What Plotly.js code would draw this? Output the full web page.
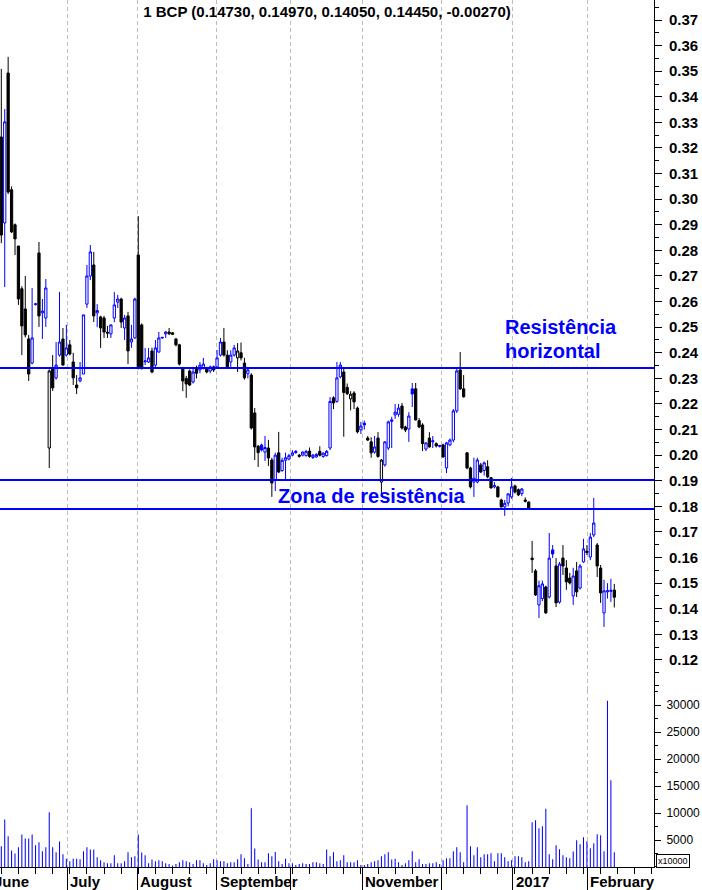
<!DOCTYPE html>
<html>
<head>
<meta charset="utf-8">
<script src="https://cdn.plot.ly/plotly-3.0.1.min.js"></script>
<style>
  html, body { margin: 0; padding: 0; background: #ffffff; }
  #chart { width: 702px; height: 890px; }
</style>
</head>
<body>
<div id="chart"></div>
<script>
// ---------------- DATA ----------------
const titleText = '1 BCP (0.14730, 0.14970, 0.14050, 0.14450, -0.00270)';

const opens = [
0.3243,0.2907,0.3493,0.3037,0.2900,0.2817,0.2650,0.2571,0.2454,0.2360,
0.2588,0.2790,0.2556,0.2536,0.2028,0.2337,0.2302,0.2391,0.2454,0.2391,
0.2431,0.2364,0.2274,0.2290,0.2317,0.2590,0.2700,0.2743,0.2556,0.2540,
0.2536,0.2480,0.2474,0.2536,0.2598,0.2610,0.2497,0.2544,0.2442,0.2458,
0.2782,0.2509,0.2365,0.2364,0.2407,0.2352,0.2403,0.2458,0.2474,0.2481,
0.2478,0.2454,0.2431,0.2341,0.2300,0.2329,0.2286,0.2341,0.2333,0.2340,
0.2340,0.2329,0.2345,0.2345,0.2391,0.2442,0.2391,0.2364,0.2391,0.2380,
0.2400,0.2360,0.2318,0.2313,0.2165,0.2035,0.2040,0.2012,0.2028,0.1981,
0.1905,0.2009,0.1940,0.1980,0.1985,0.2000,0.2015,0.1995,0.2000,0.1998,
0.2016,0.1991,0.1993,0.2015,0.1995,0.1998,0.2028,0.2224,0.2210,0.2306,
0.2325,0.2265,0.2220,0.2243,0.2184,0.2099,0.2125,0.2067,0.2052,0.2012,
0.2067,0.1895,0.1962,0.2028,0.2132,0.2157,0.2160,0.2192,0.2110,0.2102,
0.2259,0.2259,0.2135,0.2118,0.2024,0.2067,0.2052,0.2045,0.2034,0.2040,
0.1950,0.2040,0.2059,0.2173,0.2333,0.2259,0.2009,0.1950,0.1895,0.1895,
0.1962,0.1940,0.1955,0.1912,0.1876,0.1876,0.1825,0.1798,0.1813,0.1837,
0.1880,0.1865,0.1850,0.1825,0.1817,0.1598,0.1548,0.1415,0.1440,0.1485,
0.1446,0.1630,0.1567,0.1426,0.1598,0.1559,0.1520,0.1450,0.1548,0.1481,
0.1583,0.1625,0.1602,0.1688,0.1649,0.1559,0.1384,0.1466,0.1468,0.1473
];
const highs = [
0.3509,0.3352,0.3556,0.3050,0.2905,0.2817,0.2660,0.2700,0.2470,0.2653,
0.2595,0.2833,0.2610,0.2688,0.2335,0.2391,0.2442,0.2638,0.2497,0.2509,
0.2450,0.2400,0.2313,0.2364,0.2548,0.2743,0.2821,0.2794,0.2590,0.2545,
0.2544,0.2505,0.2509,0.2638,0.2626,0.2615,0.2548,0.2560,0.2509,0.2615,
0.2934,0.2515,0.2419,0.2419,0.2420,0.2450,0.2481,0.2462,0.2485,0.2497,
0.2481,0.2458,0.2435,0.2345,0.2310,0.2335,0.2345,0.2350,0.2364,0.2380,
0.2345,0.2350,0.2350,0.2411,0.2458,0.2497,0.2410,0.2410,0.2431,0.2438,
0.2440,0.2380,0.2345,0.2320,0.2184,0.2040,0.2045,0.2075,0.2060,0.1990,
0.2010,0.2091,0.1990,0.2010,0.2005,0.2020,0.2020,0.2005,0.2015,0.2020,
0.2030,0.2005,0.2008,0.2035,0.2010,0.2020,0.2227,0.2230,0.2364,0.2364,
0.2345,0.2280,0.2250,0.2250,0.2190,0.2130,0.2135,0.2075,0.2070,0.2075,
0.2090,0.1985,0.2055,0.2135,0.2150,0.2200,0.2200,0.2204,0.2115,0.2168,
0.2282,0.2282,0.2145,0.2125,0.2050,0.2090,0.2075,0.2050,0.2040,0.2045,
0.2052,0.2065,0.2180,0.2341,0.2403,0.2313,0.2012,0.1955,0.1990,0.1990,
0.1970,0.1975,0.1980,0.1915,0.1895,0.1880,0.1830,0.1825,0.1850,0.1911,
0.1885,0.1870,0.1872,0.1835,0.1820,0.1665,0.1555,0.1510,0.1510,0.1490,
0.1696,0.1649,0.1598,0.1583,0.1649,0.1590,0.1540,0.1560,0.1583,0.1575,
0.1673,0.1649,0.1696,0.1833,0.1657,0.1571,0.1513,0.1500,0.1517,0.1497
];
const lows = [
0.2828,0.2657,0.3020,0.2868,0.2782,0.2587,0.2391,0.2460,0.2290,0.2355,
0.2585,0.2501,0.2454,0.2501,0.1950,0.2251,0.2295,0.2385,0.2350,0.2385,
0.2390,0.2274,0.2239,0.2285,0.2317,0.2575,0.2684,0.2520,0.2500,0.2419,
0.2458,0.2458,0.2458,0.2520,0.2575,0.2497,0.2450,0.2356,0.2419,0.2455,
0.2335,0.2335,0.2352,0.2360,0.2320,0.2340,0.2400,0.2455,0.2458,0.2470,
0.2470,0.2425,0.2350,0.2250,0.2224,0.2270,0.2280,0.2300,0.2320,0.2335,
0.2320,0.2320,0.2325,0.2340,0.2385,0.2385,0.2340,0.2345,0.2385,0.2325,
0.2370,0.2295,0.2300,0.2100,0.1981,0.1954,0.2015,0.1977,0.1958,0.1837,
0.1860,0.1930,0.1935,0.1903,0.1980,0.1995,0.2005,0.1990,0.1995,0.1995,
0.1990,0.1985,0.1990,0.1995,0.1990,0.1995,0.2020,0.2180,0.2205,0.2300,
0.2072,0.2235,0.2175,0.2180,0.2085,0.2083,0.2100,0.2055,0.1990,0.2005,
0.1990,0.1845,0.1955,0.2020,0.2028,0.2142,0.2150,0.2100,0.2090,0.2052,
0.2188,0.2135,0.2105,0.2016,0.2016,0.2030,0.2028,0.2030,0.2030,0.1990,
0.1930,0.2035,0.2050,0.2165,0.2255,0.2225,0.1945,0.1870,0.1837,0.1890,
0.1930,0.1920,0.1910,0.1870,0.1870,0.1835,0.1795,0.1763,0.1800,0.1830,
0.1850,0.1840,0.1840,0.1815,0.1790,0.1540,0.1450,0.1364,0.1430,0.1380,
0.1440,0.1598,0.1407,0.1420,0.1532,0.1474,0.1495,0.1415,0.1446,0.1475,
0.1580,0.1610,0.1590,0.1680,0.1524,0.1423,0.1329,0.1440,0.1427,0.1405
];
const closes = [
0.2860,0.3302,0.3028,0.2872,0.2845,0.2610,0.2505,0.2470,0.2317,0.2458,
0.2591,0.2544,0.2563,0.2653,0.2329,0.2263,0.2352,0.2442,0.2352,0.2419,
0.2395,0.2302,0.2263,0.2302,0.2548,0.2700,0.2794,0.2544,0.2565,0.2497,
0.2481,0.2477,0.2509,0.2587,0.2610,0.2520,0.2536,0.2407,0.2454,0.2610,
0.2345,0.2338,0.2368,0.2380,0.2325,0.2419,0.2458,0.2460,0.2481,0.2474,
0.2472,0.2431,0.2356,0.2290,0.2278,0.2274,0.2325,0.2320,0.2352,0.2356,
0.2325,0.2345,0.2333,0.2380,0.2442,0.2391,0.2345,0.2391,0.2419,0.2407,
0.2380,0.2302,0.2333,0.2106,0.2032,0.2010,0.2020,0.2030,0.1989,0.1891,
0.2000,0.1934,0.1980,0.1990,0.1998,0.2009,0.2010,0.2000,0.2012,0.2015,
0.1995,0.2000,0.2003,0.2000,0.2008,0.2015,0.2210,0.2204,0.2302,0.2352,
0.2245,0.2240,0.2238,0.2208,0.2091,0.2114,0.2118,0.2059,0.2009,0.2032,
0.1995,0.1981,0.2052,0.2130,0.2138,0.2168,0.2184,0.2106,0.2098,0.2153,
0.2239,0.2138,0.2110,0.2045,0.2048,0.2032,0.2056,0.2036,0.2038,0.1993,
0.2048,0.2059,0.2173,0.2329,0.2259,0.2228,0.1950,0.1876,0.1910,0.1981,
0.1934,0.1970,0.1915,0.1872,0.1882,0.1837,0.1798,0.1812,0.1849,0.1876,
0.1856,0.1845,0.1868,0.1820,0.1794,0.1592,0.1454,0.1490,0.1497,0.1384,
0.1598,0.1614,0.1423,0.1575,0.1567,0.1505,0.1501,0.1528,0.1466,0.1567,
0.1634,0.1620,0.1680,0.1735,0.1567,0.1462,0.1470,0.1471,0.1472,0.1445
];
// volume in units of 10000 shares
const volumes = [
3850,8800,5700,3050,2500,3650,6000,5270,5270,6000,
4030,4590,2920,3650,10140,3650,2740,4720,2370,1510,
1080,1540,1540,1420,2920,3650,3240,3240,1820,1260,
890,700,700,2190,700,700,1080,2740,1820,2000,
6000,2700,2190,700,1390,1080,1260,1080,700,540,
300,540,890,1260,1080,890,540,1260,1260,700,
350,700,1420,1260,1080,1080,700,890,890,1420,
2370,1600,540,10880,3420,1390,890,890,2550,2000,
2800,1080,540,1540,700,700,350,540,700,540,
540,890,890,700,540,3240,2000,2740,1080,1260,
2190,890,890,890,1260,350,350,540,890,1080,
1260,2000,2370,2740,1390,1540,890,350,700,1260,
2920,890,1420,540,540,700,700,890,540,1260,
1600,1600,2920,3660,2740,890,11430,3850,2190,3660,
1820,2370,2370,2550,1080,2550,2550,1820,1080,1260,
2000,2000,1820,890,1080,8290,8660,7180,7550,10770,
2370,1420,4030,3300,2190,1820,1600,2850,4960,4220,
5510,4770,3480,4400,6070,5880,2920,30800,16060,2740
];

// month boundaries in trading-day index, and their labels
const monthStarts = [-3, 19.2, 39.7, 62.9, 84.45, 105.4, 128.6, 149.3, 171.1];
const monthNames  = ['June','July','August','September','October','November','December','2017','February'];
const monthLabelShown = [true, true, true, true, false, true, false, true, true];

const priceTicks = [0.12,0.13,0.14,0.15,0.16,0.17,0.18,0.19,0.20,0.21,0.22,0.23,0.24,0.25,0.26,0.27,0.28,0.29,0.30,0.31,0.32,0.33,0.34,0.35,0.36,0.37];
const priceTickText = ['0.12','0.13','0.14','0.15','0.16','0.17','0.18','0.19','0.20','0.21','0.22','0.23','0.24','0.25','0.26','0.27','0.28','0.29','0.30','0.31','0.32','0.33','0.34','0.35','0.36','0.37'];
const volumeTicks = [5000,10000,15000,20000,25000,30000];
const volumeTickText = ['5000','10000','15000','20000','25000','30000'];

const resistanceLevels = [0.2341, 0.1903, 0.1790];
const labelResistance = ['Resistência', 'horizontal'];
const labelZone = 'Zona de resistência';
const volumeUnitLabel = 'x10000';

// ---------------- BUILD ----------------
const BLUE = '#0000ff';
const BLACK = '#000000';
const FONT = '"Liberation Sans", Arial, sans-serif';

const days = opens.map((_, i) => i);

// candle style: colour by change vs previous close, hollow when close > open
const groups = {
  blueHollow:  {line: BLUE,  fill: '#ffffff', idx: []},
  blueFilled:  {line: BLUE,  fill: BLUE,      idx: []},
  blackHollow: {line: BLACK, fill: '#ffffff', idx: []},
  blackFilled: {line: BLACK, fill: BLACK,     idx: []}
};
days.forEach(i => {
  const up = i > 0 && closes[i] >= closes[i - 1];
  const hollow = closes[i] > opens[i];
  const key = (up ? 'blue' : 'black') + (hollow ? 'Hollow' : 'Filled');
  groups[key].idx.push(i);
});

const traces = [];
Object.keys(groups).forEach(key => {
  const g = groups[key];
  const pick = arr => g.idx.map(i => arr[i]);
  const style = {line: {color: g.line, width: 1}, fillcolor: g.fill};
  traces.push({
    type: 'candlestick',
    x: g.idx.slice(),
    open: pick(opens), high: pick(highs), low: pick(lows), close: pick(closes),
    increasing: style, decreasing: style,
    whiskerwidth: 0,
    xaxis: 'x', yaxis: 'y',
    hoverinfo: 'skip', showlegend: false
  });
});

traces.push({
  type: 'bar',
  x: days, y: volumes,
  width: 0.3,
  marker: {color: BLUE, line: {width: 0}},
  xaxis: 'x', yaxis: 'y2',
  hoverinfo: 'skip', showlegend: false
});

const xRange = [-0.38, 190.59];
const toPaperX = k => (k - xRange[0]) / (xRange[1] - xRange[0]);

const shapes = resistanceLevels.map(v => ({
  type: 'line', xref: 'paper', x0: 0, x1: 1, yref: 'y', y0: v, y1: v,
  line: {color: BLUE, width: 2}
}));

const annotations = [];
monthStarts.forEach((m, i) => {
  if (!monthLabelShown[i]) return;
  annotations.push({
    text: monthNames[i], xref: 'paper', yref: 'paper',
    x: toPaperX(m), y: 0, xanchor: 'left', yanchor: 'middle',
    xshift: 1, yshift: -14, showarrow: false,
    font: {family: FONT, size: 15, color: BLACK, weight: 'bold'}
  });
});
annotations.push({
  text: labelResistance[0], xref: 'paper', yref: 'y', x: 503 / 654, y: 0.2499,
  xanchor: 'left', yanchor: 'middle', showarrow: false,
  font: {family: FONT, size: 20, color: BLUE, weight: 'bold'}
});
annotations.push({
  text: labelResistance[1], xref: 'paper', yref: 'y', x: 503 / 654, y: 0.2407,
  xanchor: 'left', yanchor: 'middle', showarrow: false,
  font: {family: FONT, size: 20, color: BLUE, weight: 'bold'}
});
annotations.push({
  text: labelZone, xref: 'paper', yref: 'y', x: 276 / 654, y: 0.1841,
  xanchor: 'left', yanchor: 'middle', showarrow: false,
  font: {family: FONT, size: 20, color: BLUE, weight: 'bold'}
});
annotations.push({
  text: volumeUnitLabel, xref: 'paper', yref: 'paper', x: 656 / 654, y: 0.0074,
  xanchor: 'left', yanchor: 'middle', showarrow: false,
  bordercolor: BLACK, borderwidth: 1, borderpad: 1, bgcolor: '#ffffff',
  font: {family: FONT, size: 9, color: BLACK}
});

const layout = {
  width: 702, height: 890,
  margin: {l: 0, r: 48, t: 0, b: 23, pad: 0},
  paper_bgcolor: '#ffffff', plot_bgcolor: '#ffffff',
  showlegend: false,
  boxgap: 0.06,
  title: {
    text: titleText, x: 0.5, xref: 'paper', xanchor: 'center',
    y: 1 - 12 / 890, yref: 'container', yanchor: 'middle',
    font: {family: FONT, size: 15, color: BLACK, weight: 'bold'}
  },
  xaxis: {
    range: xRange, anchor: 'y2', fixedrange: true,
    showline: true, linecolor: BLACK, linewidth: 1,
    tickmode: 'array', tickvals: monthStarts.slice(1), showticklabels: false,
    ticks: 'outside', ticklen: 23, tickcolor: BLACK, tickwidth: 1,
    showgrid: true, gridcolor: '#bdbdbd', griddash: '4px,3px', gridwidth: 1,
    zeroline: false,
    rangeslider: {visible: false},
    minor: {tick0: 0, dtick: 5, ticks: 'outside', ticklen: 6, tickcolor: BLACK, showgrid: false}
  },
  yaxis: {
    domain: [0.2042, 1], range: [0.108281, 0.377813], anchor: 'x', side: 'right',
    fixedrange: true, showline: true, linecolor: BLACK, linewidth: 1,
    tickmode: 'array', tickvals: priceTicks, ticktext: priceTickText,
    ticks: 'outside', ticklen: 7, tickcolor: BLACK,
    ticklabelstandoff: 4,
    tickfont: {family: FONT, size: 15, color: BLACK, weight: 'bold'},
    showgrid: false, zeroline: false,
    minor: {tick0: 0, dtick: 0.005, ticks: 'outside', ticklen: 4, tickcolor: BLACK, showgrid: false}
  },
  yaxis2: {
    domain: [0, 0.2042], range: [0, 32800], anchor: 'x', side: 'right',
    fixedrange: true, showline: true, linecolor: BLACK, linewidth: 1,
    tickmode: 'array', tickvals: volumeTicks, ticktext: volumeTickText,
    ticks: 'outside', ticklen: 6, tickcolor: BLACK,
    ticklabelstandoff: 3,
    tickfont: {family: FONT, size: 12, color: BLACK},
    showgrid: false, zeroline: false,
    minor: {tick0: 0, dtick: 2500, ticks: 'outside', ticklen: 3, tickcolor: BLACK, showgrid: false}
  },
  shapes: shapes,
  annotations: annotations
};

Plotly.newPlot('chart', traces, layout, {displayModeBar: false, staticPlot: true});
</script>
</body>
</html>
